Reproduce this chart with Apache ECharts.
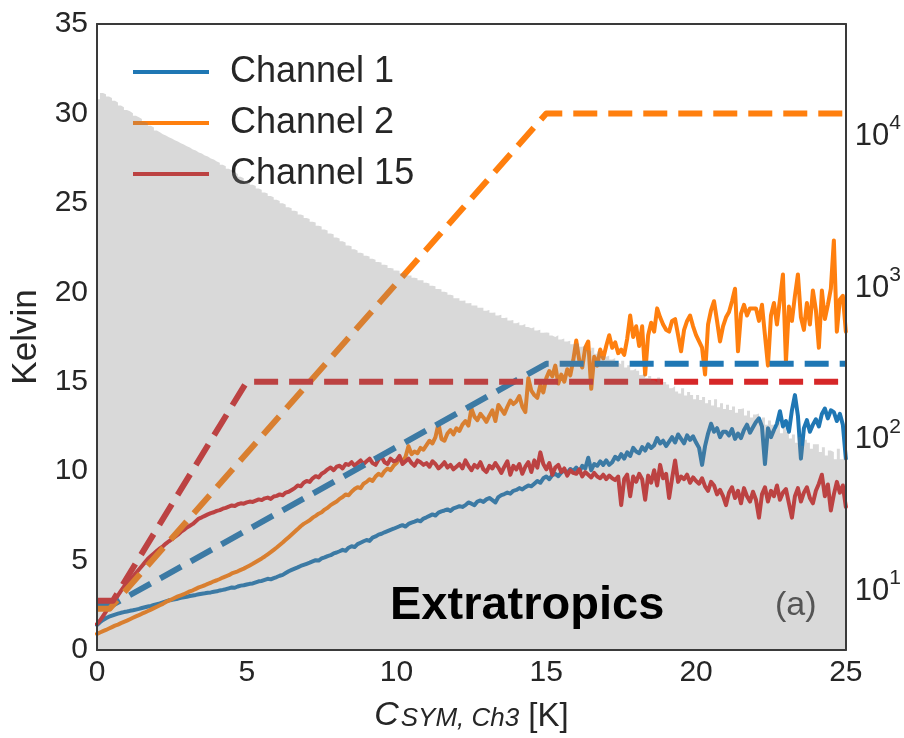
<!DOCTYPE html>
<html>
<head>
<meta charset="utf-8">
<script src="https://cdn.jsdelivr.net/npm/echarts@6/dist/echarts.min.js"></script>
<style>
  html, body { margin: 0; padding: 0; background: #fff; }
  #chart { width: 904px; height: 738px; }
</style>
</head>
<body>
<div id="chart"></div>
<script>
// Sampling step of the channel curves along C_SYM,Ch3 (K)
const STEP = 0.1;

// Channel 1 error curve (K), x = 0.0 ... 25.0
const ch1 = [
  1.40,1.55,1.68,1.78,1.86,1.92,1.98,2.03,2.08,2.12,
  2.15,2.19,2.22,2.26,2.30,2.35,2.39,2.43,2.47,2.52,
  2.56,2.60,2.66,2.72,2.78,2.80,2.84,2.87,2.92,2.95,
  2.98,3.02,3.05,3.08,3.12,3.15,3.17,3.20,3.22,3.26,
  3.28,3.33,3.36,3.40,3.45,3.50,3.48,3.55,3.60,3.62,
  3.66,3.70,3.72,3.78,3.84,3.86,3.92,3.98,3.95,4.02,
  4.08,4.15,4.20,4.30,4.40,4.48,4.55,4.62,4.70,4.76,
  4.82,4.88,4.95,5.02,5.00,5.12,5.18,5.25,5.30,5.40,
  5.45,5.52,5.60,5.55,5.72,5.80,5.76,5.92,6.00,6.08,
  6.15,6.10,6.28,6.35,6.45,6.50,6.58,6.65,6.72,6.78,
  6.85,6.92,6.98,6.90,7.05,7.12,7.18,7.25,7.20,7.35,
  7.42,7.50,7.58,7.52,7.68,7.75,7.80,7.86,7.78,7.92,
  7.98,8.04,8.00,8.10,8.25,8.18,8.10,8.30,8.36,8.28,
  8.42,8.50,8.38,8.25,8.55,8.66,8.72,8.80,8.74,8.90,
  8.95,9.05,8.98,9.10,9.20,9.15,9.30,9.45,9.35,9.60,
  9.70,9.55,9.78,9.85,9.72,9.92,10.05,9.90,10.12,10.00,
  10.20,9.95,10.30,10.15,10.75,10.05,10.40,10.30,10.55,10.35,
  10.60,10.35,10.50,10.80,10.65,10.95,10.70,11.05,10.85,11.30,
  11.10,11.00,11.35,11.15,11.50,11.30,11.45,11.85,11.55,11.70,
  11.40,11.65,11.90,11.60,12.05,11.80,11.55,12.00,11.75,11.95,
  11.60,11.30,10.35,11.40,12.10,12.65,12.20,12.40,11.90,12.20,
  12.20,12.00,12.35,11.80,12.10,11.85,12.30,12.60,12.15,12.45,
  12.75,12.95,12.50,10.40,12.40,11.90,12.30,12.65,13.35,12.50,
  12.80,12.20,13.40,14.25,13.10,10.70,12.40,12.85,12.20,12.60,
  12.90,12.50,13.20,13.50,12.95,13.40,13.30,12.80,13.20,12.60,
  10.70
];

// Channel 2 error curve (K)
const ch2 = [
  0.90,0.98,1.05,1.12,1.20,1.28,1.36,1.42,1.50,1.57,
  1.64,1.72,1.80,1.88,1.95,2.03,2.10,2.18,2.26,2.34,
  2.42,2.50,2.58,2.68,2.76,2.84,2.92,3.00,3.06,3.12,
  3.20,3.28,3.34,3.42,3.50,3.56,3.62,3.70,3.76,3.84,
  3.90,3.97,4.05,4.12,4.18,4.28,4.34,4.40,4.48,4.55,
  4.64,4.73,4.82,4.92,5.02,5.12,5.23,5.35,5.47,5.60,
  5.73,5.87,6.01,6.16,6.31,6.46,6.61,6.76,6.92,7.05,
  7.15,7.25,7.40,7.50,7.62,7.70,7.85,7.95,8.10,8.20,
  8.30,8.45,8.55,8.70,8.65,8.85,9.00,9.10,9.05,9.30,
  9.40,9.55,9.45,9.70,9.85,9.75,10.00,10.15,10.05,10.30,
  10.45,10.70,10.55,10.80,11.40,10.95,11.10,11.00,11.30,11.20,
  11.45,11.70,11.55,11.90,12.65,11.80,11.70,12.10,12.30,12.05,
  12.40,12.25,12.60,12.80,12.55,13.50,13.05,12.85,13.20,13.00,
  12.75,13.10,13.40,12.80,13.70,13.45,13.20,13.60,13.95,13.75,
  13.90,14.20,13.60,13.30,15.20,14.50,14.25,14.10,14.80,14.40,
  15.20,15.60,15.30,15.90,14.90,15.40,15.00,15.70,15.35,16.20,
  17.30,16.20,15.80,16.90,17.25,14.60,16.40,15.90,16.80,16.30,
  17.00,17.60,16.90,17.20,16.60,16.80,16.50,17.40,18.70,17.50,
  18.10,17.00,18.10,15.40,17.60,18.30,17.80,19.10,18.60,18.20,
  17.90,17.80,18.40,18.50,17.60,16.70,17.90,18.40,18.70,18.10,
  17.60,17.25,16.90,15.40,18.20,19.00,19.50,18.40,17.25,18.10,
  18.60,18.90,19.50,20.20,16.70,18.80,19.30,18.70,19.10,19.10,
  19.10,18.40,19.30,17.60,15.90,18.70,19.40,18.20,19.60,21.00,
  16.10,19.20,18.40,19.80,21.00,18.60,17.90,19.40,18.20,20.10,
  19.00,16.90,20.10,18.50,19.30,20.20,22.90,17.80,19.60,19.80,
  17.80
];

// Channel 15 error curve (K)
const ch15 = [
  1.45,1.65,1.90,2.15,2.40,2.60,2.80,3.05,3.30,3.55,
  3.75,3.95,4.10,4.30,4.50,4.70,4.90,5.10,5.25,5.40,
  5.55,5.68,5.80,5.95,6.08,6.20,6.32,6.45,6.60,6.72,
  6.85,6.95,7.05,7.20,7.35,7.42,7.50,7.58,7.65,7.70,
  7.78,7.82,7.90,7.95,8.02,8.08,8.05,8.15,8.20,8.18,
  8.25,8.30,8.28,8.35,8.42,8.38,8.48,8.52,8.45,8.58,
  8.62,8.70,8.65,8.80,8.85,8.95,9.05,9.20,9.15,9.35,
  9.45,9.40,9.60,9.72,9.65,9.85,9.95,10.10,10.20,10.05,
  10.25,10.30,10.15,10.40,10.35,10.50,10.30,10.45,10.60,10.40,
  10.55,10.70,10.45,10.35,10.65,10.80,10.50,10.40,10.70,10.55,
  10.60,10.85,10.40,10.55,10.70,10.45,10.30,10.60,10.50,10.35,
  10.45,10.25,10.55,10.40,10.15,10.30,10.50,10.20,10.35,10.10,
  10.25,10.40,10.15,10.60,10.30,10.05,10.35,10.20,10.50,10.10,
  9.95,10.30,10.15,10.45,10.20,9.90,10.25,10.55,9.80,10.30,
  10.10,10.40,9.85,10.25,10.50,9.95,10.60,10.20,11.05,10.40,
  10.10,10.45,9.80,10.20,10.35,9.95,10.15,9.75,10.05,9.90,
  9.85,10.10,9.70,9.95,9.80,9.65,9.90,9.70,9.60,9.80,
  9.55,9.75,9.60,9.50,9.70,8.10,9.55,9.80,8.60,9.70,
  9.40,9.85,9.55,8.40,9.75,9.35,10.05,9.20,10.35,9.60,
  9.85,8.50,9.60,10.60,9.40,9.70,9.55,9.80,9.35,9.65,
  9.45,9.30,9.60,9.15,8.90,9.40,9.20,8.70,8.95,8.60,
  8.10,8.80,9.10,8.50,8.90,8.20,9.05,8.60,8.30,8.85,
  8.40,7.40,8.70,9.10,8.30,8.90,8.60,9.20,8.40,8.80,
  9.00,8.20,7.40,8.60,9.05,8.30,8.80,9.10,8.50,8.20,
  8.90,9.30,9.80,8.60,9.25,7.80,8.70,9.40,8.80,9.20,
  8.00
];

// Threshold curves (dashed): breakpoints in x (K) and Kelvin
const ch1LimitX = [0, 0.54, 15, 25];
const ch1LimitY = [2.55, 2.55, 16, 16];
const ch2LimitX = [0, 0.42, 15, 25];
const ch2LimitY = [2.3, 2.3, 30, 30];
const ch15LimitX = [0, 0.53, 5, 25];
const ch15LimitY = [2.75, 2.75, 15, 15];

// Sample counts per 0.1 K bin of C_SYM,Ch3 (right, logarithmic axis)
const histBinWidth = 0.1;
const histCounts = [
  16600,18200,17900,17300,16900,16200,15800,15100,14700,14100,
  13800,13400,12900,12600,12300,11800,11500,11100,10800,10300,
  10050,9750,9560,9310,9140,8880,8730,8490,8340,8110,
  7960,7740,7610,7390,7260,7060,6940,6740,6630,6440,
  6320,6120,5990,5770,5640,5440,5320,5110,5000,4810,
  4700,4530,4440,4270,4190,4030,3960,3810,3740,3600,
  3540,3410,3350,3220,3170,3050,3010,2880,2840,2730,
  2690,2580,2550,2430,2400,2290,2260,2160,2130,2030,
  2000,1920,1880,1800,1780,1700,1670,1610,1590,1540,
  1520,1470,1450,1400,1390,1340,1330,1280,1270,1230,
  1225,1180,1180,1140,1140,1100,1095,1060,1060,1020,
  1010,975,968,930,925,890,882,850,842,808,
  808,778,780,748,752,722,724,698,698,668,
  676,648,650,620,628,598,602,576,580,552,
  560,536,545,522,512,520,494,500,478,480,
  478,458,448,460,432,438,418,424,402,408,
  404,386,392,368,362,380,348,360,336,332,
  338,318,326,304,296,312,282,292,270,278,
  268,252,258,240,248,232,226,242,216,226,
  218,206,212,196,190,206,184,194,186,174,
  186,172,180,164,172,158,174,154,164,150,
  160,148,156,142,150,152,136,146,132,138,
  140,126,132,118,126,118,110,122,104,112,
  106,96,102,90,98,86,94,90,82,88,
  88,78,84,74,80,78,70,82,70,72
];

const xTicks = [0, 5, 10, 15, 20, 25];
const yTicks = [0, 5, 10, 15, 20, 25, 30, 35];

const FONT = '"Liberation Sans", Arial, Helvetica, sans-serif';
const TEXT = '#262626';
const SPINE = '#3a3a3a';
const BLUE = '#1f77b4', ORANGE = '#ff7f0e', RED = '#d62728';

const toPairs = arr => arr.map((v, i) => [Math.round(i * STEP * 10) / 10, v]);
const zipXY = (xs, ys) => xs.map((x, i) => [x, ys[i]]);

// step outline: each count holds from its bin's left edge to the next edge
const histData = histCounts.map((c, i) => [Math.round(i * histBinWidth * 10) / 10, c]);
histData.push([xTicks[xTicks.length - 1], histCounts[histCounts.length - 1]]);

const chart = echarts.init(document.getElementById('chart'), null, { renderer: 'canvas' });

const solid = (name, data, color) => ({
  name, type: 'line', data, xAxisIndex: 0, yAxisIndex: 0,
  showSymbol: false, symbol: 'none', z: 2,
  itemStyle: { color },
  lineStyle: { color, width: 4, join: 'round', cap: 'round' }
});
const dashed = (name, data, color) => ({
  name, type: 'line', data, xAxisIndex: 0, yAxisIndex: 0,
  showSymbol: false, symbol: 'none', z: 2,
  itemStyle: { color },
  lineStyle: { color, width: 6, type: [24, 11], join: 'round', cap: 'butt' }
});

chart.setOption({
  animation: false,
  backgroundColor: '#ffffff',
  grid: { left: 97, right: 53, top: 24, bottom: 85, containLabel: false },
  legend: {
    orient: 'vertical', left: 128, top: 49, z: 4,
    icon: 'rect', itemWidth: 76, itemHeight: 4, itemGap: 15,
    selectedMode: false,
    textStyle: { fontSize: 36, color: TEXT, fontFamily: FONT, padding: [0, 0, 0, 16] },
    data: ['Channel 1', 'Channel 2', 'Channel 15']
  },
  xAxis: [
    {
      type: 'value', position: 'bottom', min: 0, max: 25, interval: 5, z: 6,
      axisLine: { show: true, onZero: false, lineStyle: { color: SPINE, width: 2 } },
      axisTick: { show: false }, splitLine: { show: false },
      axisLabel: { fontSize: 30, color: TEXT, fontFamily: FONT, margin: 8,
        formatter: v => (xTicks.includes(v) ? String(v) : '') },
      name: '{c|C}{s|SYM, Ch3}{k| [K]}',
      nameLocation: 'middle', nameGap: 49,
      nameTextStyle: {
        color: TEXT, fontFamily: FONT,
        rich: {
          c: { fontSize: 34, fontStyle: 'italic', color: TEXT, fontFamily: FONT, verticalAlign: 'bottom' },
          s: { fontSize: 26, fontStyle: 'italic', color: TEXT, fontFamily: FONT, verticalAlign: 'bottom', padding: [0, 0, 1, 2] },
          k: { fontSize: 33, color: TEXT, fontFamily: FONT, verticalAlign: 'bottom' }
        }
      }
    },
    {
      type: 'value', position: 'top', min: 0, max: 25, interval: 5, z: 6,
      axisLine: { show: true, onZero: false, lineStyle: { color: SPINE, width: 2 } },
      axisTick: { show: false }, splitLine: { show: false }, axisLabel: { show: false }
    }
  ],
  yAxis: [
    {
      type: 'value', position: 'left', min: 0, max: 35, interval: 5, z: 6,
      axisLine: { show: true, onZero: false, lineStyle: { color: SPINE, width: 2 } },
      axisTick: { show: false }, splitLine: { show: false },
      axisLabel: { fontSize: 30, color: TEXT, fontFamily: FONT, margin: 9,
        formatter: v => (yTicks.includes(v) ? String(v) : '') },
      name: 'Kelvin', nameLocation: 'middle', nameGap: 52,
      nameTextStyle: { fontSize: 35, color: TEXT, fontFamily: FONT }
    },
    {
      type: 'log', logBase: 10, position: 'right', min: 3.86, max: 52000, z: 6,
      axisLine: { show: true, onZero: false, lineStyle: { color: SPINE, width: 2 } },
      axisTick: { show: false }, splitLine: { show: false },
      axisLabel: {
        margin: 9, showMinLabel: false, showMaxLabel: false,
        formatter: v => {
          const e = Math.round(Math.log10(v));
          if (Math.abs(Math.log10(v) - e) > 1e-6) return '';
          return '{b|10}{s|' + e + '}';
        },
        rich: {
          b: { fontSize: 31, color: TEXT, fontFamily: FONT, verticalAlign: 'bottom', padding: [8, 0, 0, 0] },
          s: { fontSize: 21, color: TEXT, fontFamily: FONT, verticalAlign: 'top' }
        }
      }
    }
  ],
  series: [
    solid('Channel 1', toPairs(ch1), BLUE),
    solid('Channel 2', toPairs(ch2), ORANGE),
    solid('Channel 15', toPairs(ch15), RED),
    dashed('Channel 1 threshold', zipXY(ch1LimitX, ch1LimitY), BLUE),
    dashed('Channel 2 threshold', zipXY(ch2LimitX, ch2LimitY), ORANGE),
    dashed('Channel 15 threshold', zipXY(ch15LimitX, ch15LimitY), RED),
    {
      name: 'Samples', type: 'line', xAxisIndex: 0, yAxisIndex: 1,
      data: histData, step: 'end', showSymbol: false, symbol: 'none', z: 5,
      lineStyle: { width: 0, opacity: 0 },
      itemStyle: { color: 'rgba(128,128,128,0.3)' },
      areaStyle: { color: 'rgba(128,128,128,0.3)', opacity: 1, origin: 'start' }
    }
  ],
  graphic: [
    {
      type: 'text', z: 100, silent: true,
      style: { x: 390, y: 606, text: 'Extratropics', fill: '#000',
        font: 'bold 47px ' + FONT, align: 'left', verticalAlign: 'middle' }
    },
    {
      type: 'text', z: 100, silent: true,
      style: { x: 775, y: 606, text: '(a)', fill: '#555555',
        font: '34px ' + FONT, align: 'left', verticalAlign: 'middle' }
    }
  ]
});
</script>
</body>
</html>
